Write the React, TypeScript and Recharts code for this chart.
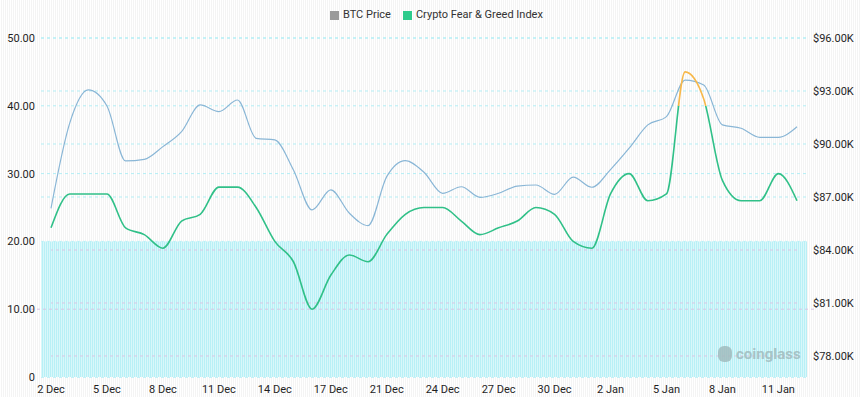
import { LineChart, Line, XAxis, YAxis, CartesianGrid, ReferenceArea, ReferenceLine } from "recharts";

// dates (one day skipped around 19 Dec, ticks every 3 points)
const dates = [
  "2 Dec", "3 Dec", "4 Dec", "5 Dec", "6 Dec", "7 Dec", "8 Dec", "9 Dec", "10 Dec", "11 Dec",
  "12 Dec", "13 Dec", "14 Dec", "15 Dec", "16 Dec", "17 Dec", "18 Dec", "20 Dec", "21 Dec", "22 Dec",
  "23 Dec", "24 Dec", "25 Dec", "26 Dec", "27 Dec", "28 Dec", "29 Dec", "30 Dec", "31 Dec", "1 Jan",
  "2 Jan", "3 Jan", "4 Jan", "5 Jan", "6 Jan", "7 Jan", "8 Jan", "9 Jan", "10 Jan", "11 Jan", "12 Jan",
];

const fearGreed = [
  22, 27, 27, 27, 22, 21, 19, 23, 24, 28,
  28, 25, 20, 17, 10, 15, 18, 17, 21, 24,
  25, 25, 23, 21, 22, 23, 25, 24, 20, 19,
  27, 30, 26, 27, 45, 41, 29, 26, 26, 30, 26,
];

const btcPrice = [
  86360, 91170, 93060, 92150, 89040, 89130, 89850, 90700, 92210, 91830,
  92490, 90320, 90230, 88530, 86270, 87400, 86080, 85380, 88150, 89060,
  88400, 87210, 87580, 86980, 87210, 87620, 87680, 87150, 88120, 87550,
  88550, 89760, 91080, 91550, 93620, 93340, 91080, 90890, 90380, 90380, 90980,
];

const leftTicks = [0, 10, 20, 30, 40, 50];
const rightTicks = [78000, 81000, 84000, 87000, 90000, 93000, 96000];
const rightDomain = [76810, 96000];
const FEAR_TOP = 20;

const chartData = dates.map((d, i) => ({ date: d, fg: fearGreed[i], price: btcPrice[i] }));

const fgMax = Math.max(...fearGreed);
const fgMin = Math.min(...fearGreed);
const greedOffset = (fgMax - 40) / (fgMax - fgMin);

// grid lines that fall inside the fear zone get redrawn on top of it
const fearPriceTop = rightDomain[0] + ((rightDomain[1] - rightDomain[0]) * FEAR_TOP) / 50;
const leftInZone = leftTicks.filter((t) => t > 0 && t < FEAR_TOP);
const rightInZone = rightTicks.filter((t) => t < fearPriceTop);

const X_PAD = 10;
const tickStyle = { fontSize: 11, fill: "#1f1f1f", fontFamily: "Roboto, sans-serif" };

// fear zone spans the full plot width, including the x padding
function FearZone(props: any) {
  const { x, y, width, height } = props;
  return (
    <rect
      x={x - X_PAD}
      y={y}
      width={width + X_PAD * 2}
      height={height}
      fill="url(#fearStripes)"
    />
  );
}

function ZoneLine(props: any) {
  const { x1, x2, y1, y2 } = props;
  return (
    <line x1={x1 - X_PAD} x2={x2 + X_PAD} y1={y1} y2={y2} stroke="#d8c6e4" strokeDasharray="3 3" />
  );
}

export default function App() {
  return (
    <div
      style={{
        position: "absolute",
        left: 0,
        top: 0,
        width: 860,
        height: 397,
        background: "repeating-linear-gradient(90deg, #ffffff 0px, #ffffff 1px, #f4f4f4 1px, #f4f4f4 2px)",
        fontFamily: "Roboto, sans-serif",
      }}
    >
      {/* legend */}
      <div
        style={{
          position: "absolute",
          top: 8,
          left: 330,
          display: "flex",
          alignItems: "center",
          fontSize: 11,
          color: "#333",
          lineHeight: "14px",
        }}
      >
        <span style={{ width: 9, height: 9, background: "#9a9a9a", display: "inline-block", marginRight: 4 }} />
        <span style={{ marginRight: 12 }}>BTC Price</span>
        <span style={{ width: 9, height: 9, background: "#2ecb8c", display: "inline-block", marginRight: 4 }} />
        <span>Crypto Fear &amp; Greed Index</span>
      </div>

      <LineChart width={860} height={397} data={chartData} margin={{ top: 38, right: 0, left: 0, bottom: 0 }}>
        <defs>
          <pattern id="fearStripes" width="2" height="4" patternUnits="userSpaceOnUse">
            <rect x="0" y="0" width="1" height="4" fill="#b8f0f6" />
            <rect x="1" y="0" width="1" height="4" fill="#d9f7fa" />
          </pattern>
          <linearGradient id="fgStroke" x1="0" y1="0" x2="0" y2="1">
            <stop offset={0} stopColor="#f7b84a" />
            <stop offset={greedOffset} stopColor="#f7b84a" />
            <stop offset={greedOffset} stopColor="#30c088" />
            <stop offset={1} stopColor="#30c088" />
          </linearGradient>
        </defs>

        <CartesianGrid yAxisId="left" vertical={false} stroke="#b3eef5" strokeDasharray="3 3" />
        <CartesianGrid yAxisId="right" vertical={false} stroke="#b3eef5" strokeDasharray="3 3" />

        <ReferenceArea yAxisId="left" y1={0} y2={FEAR_TOP} shape={FearZone} ifOverflow="visible" />
        {leftInZone.map((t) => (
          <ReferenceLine key={`l${t}`} yAxisId="left" y={t} shape={ZoneLine} />
        ))}
        {rightInZone.map((t) => (
          <ReferenceLine key={`r${t}`} yAxisId="right" y={t} shape={ZoneLine} />
        ))}

        <XAxis
          dataKey="date"
          interval={2}
          axisLine={false}
          tickLine={false}
          tickMargin={2}
          height={20}
          padding={{ left: X_PAD, right: X_PAD }}
          tick={tickStyle}
        />
        <YAxis
          yAxisId="left"
          domain={[0, 50]}
          ticks={leftTicks}
          width={41}
          axisLine={false}
          tickLine={false}
          tickMargin={0}
          tick={tickStyle}
          tickFormatter={(v) => (v === 0 ? "0" : v.toFixed(2))}
        />
        <YAxis
          yAxisId="right"
          orientation="right"
          domain={rightDomain}
          ticks={rightTicks}
          width={53}
          axisLine={false}
          tickLine={false}
          tickMargin={0}
          tick={tickStyle}
          tickFormatter={(v) => `$${(v / 1000).toFixed(2)}K`}
        />

        <Line
          yAxisId="right"
          type="monotone"
          dataKey="price"
          stroke="#89b6d6"
          strokeWidth={1.2}
          dot={false}
          activeDot={false}
          isAnimationActive={false}
          name="BTC Price"
        />
        <Line
          yAxisId="left"
          type="monotone"
          dataKey="fg"
          stroke="url(#fgStroke)"
          strokeWidth={1.6}
          dot={false}
          activeDot={false}
          isAnimationActive={false}
          name="Crypto Fear & Greed Index"
        />
      </LineChart>

      {/* watermark */}
      <div
        style={{
          position: "absolute",
          left: 718,
          top: 345,
          fontSize: 15,
          fontWeight: 700,
          color: "#9fb9bb",
          opacity: 0.8,
          display: "flex",
          alignItems: "center",
        }}
      >
        <span style={{ width: 14, height: 16, borderRadius: 6, background: "#9fb9bb", display: "inline-block", marginRight: 4 }} />
        coinglass
      </div>
    </div>
  );
}
